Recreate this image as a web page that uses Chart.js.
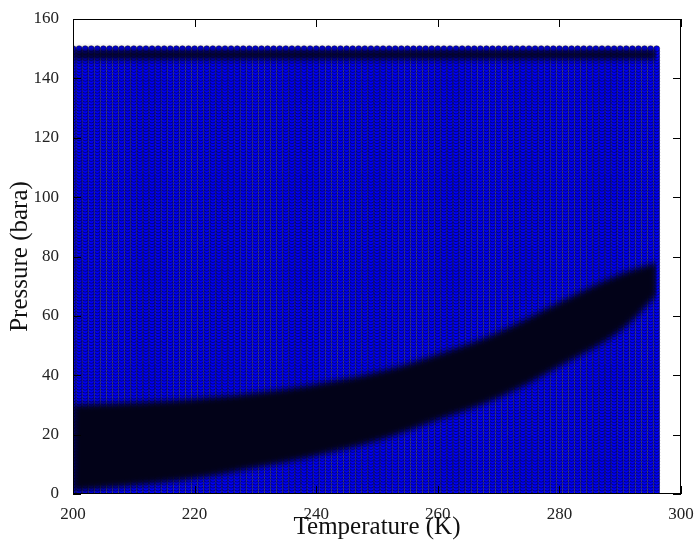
<!DOCTYPE html>
<html>
<head>
<meta charset="utf-8">
<script src="https://cdn.jsdelivr.net/npm/chart.js@4.4.1/dist/chart.umd.min.js"></script>
<style>
    html, body { margin: 0; padding: 0; background: #fff; }
    #wrap { width: 696px; height: 547px; }
</style>
</head>
<body>
<div id="wrap"><canvas id="chart"></canvas></div>
<script>
// Sampled state grid (temperature K x pressure bara)
const temperatures = [
    200, 201, 202, 203, 204, 205, 206, 207, 208, 209, 210, 211, 212, 213, 214, 215, 216, 217, 218, 219,
    220, 221, 222, 223, 224, 225, 226, 227, 228, 229, 230, 231, 232, 233, 234, 235, 236, 237, 238, 239,
    240, 241, 242, 243, 244, 245, 246, 247, 248, 249, 250, 251, 252, 253, 254, 255, 256, 257, 258, 259,
    260, 261, 262, 263, 264, 265, 266, 267, 268, 269, 270, 271, 272, 273, 274, 275, 276, 277, 278, 279,
    280, 281, 282, 283, 284, 285, 286, 287, 288, 289, 290, 291, 292, 293, 294, 295, 296
];
const pressures = [
    0, 1, 2, 3, 4, 5, 6, 7, 8, 9, 10, 11, 12, 13, 14, 15, 16, 17, 18, 19,
    20, 21, 22, 23, 24, 25, 26, 27, 28, 29, 30, 31, 32, 33, 34, 35, 36, 37, 38, 39,
    40, 41, 42, 43, 44, 45, 46, 47, 48, 49, 50, 51, 52, 53, 54, 55, 56, 57, 58, 59,
    60, 61, 62, 63, 64, 65, 66, 67, 68, 69, 70, 71, 72, 73, 74, 75, 76, 77, 78, 79,
    80, 81, 82, 83, 84, 85, 86, 87, 88, 89, 90, 91, 92, 93, 94, 95, 96, 97, 98, 99,
    100, 101, 102, 103, 104, 105, 106, 107, 108, 109, 110, 111, 112, 113, 114, 115, 116, 117, 118, 119,
    120, 121, 122, 123, 124, 125, 126, 127, 128, 129, 130, 131, 132, 133, 134, 135, 136, 137, 138, 139,
    140, 141, 142, 143, 144, 145, 146, 147, 148, 149, 150
];

// Dense two-phase band
const bandTemps = [200, 210, 220, 230, 240, 250, 260, 270, 280, 290, 296];
const bandUpper = [30, 30.8, 32, 34, 37, 41, 47, 54.5, 64.5, 74, 78];
const bandLower = [1, 3, 5.3, 8.9, 13, 18, 25, 32.5, 43, 55, 67];

// Dense strip along the top rows
const capTemps = [200, 296];
const capUpper = [149.5, 149.5];
const capLower = [146.5, 146.5];

const xTicks = [200, 220, 240, 260, 280, 300];
const yTicks = [0, 20, 40, 60, 80, 100, 120, 140, 160];

const gridPoints = [];
temperatures.forEach(t => {
    pressures.forEach(p => gridPoints.push({ x: t, y: p }));
});

const toXY = (xs, ys) => xs.map((x, i) => ({ x: x, y: ys[i] }));

// Soft edges on the dense regions, then frame and inward ticks
const softBands = {
    id: 'softBands',
    afterDatasetDraw(chart, args) {
        if (args.index === chart.data.datasets.length - 1) {
            chart.ctx.filter = 'blur(3px)';
        }
    },
    afterDatasetsDraw(chart) {
        const { ctx, chartArea: a, scales } = chart;
        ctx.filter = 'none';
        ctx.save();
        ctx.strokeStyle = '#000';
        ctx.lineWidth = 1;
        ctx.strokeRect(a.left + 0.5, a.top + 0.5, a.right - a.left - 1, a.bottom - a.top - 1);
        ctx.beginPath();
        xTicks.forEach(v => {
            const x = Math.round(scales.x.getPixelForValue(v)) + 0.5;
            ctx.moveTo(x, a.bottom); ctx.lineTo(x, a.bottom - 8);
            ctx.moveTo(x, a.top); ctx.lineTo(x, a.top + 8);
        });
        yTicks.forEach(v => {
            const y = Math.round(scales.y.getPixelForValue(v)) + 0.5;
            ctx.moveTo(a.left, y); ctx.lineTo(a.left + 8, y);
            ctx.moveTo(a.right, y); ctx.lineTo(a.right - 8, y);
        });
        ctx.stroke();
        ctx.restore();
    }
};

const tickFont = { family: 'Liberation Serif', size: 17 };
const titleFont = { family: 'Liberation Serif', size: 25 };
const bandColor = '#020218';

const edge = (data, fill) => ({
    type: 'line',
    data: data,
    borderWidth: 0,
    borderColor: bandColor,
    backgroundColor: bandColor,
    pointRadius: 0,
    tension: 0.4,
    fill: fill,
    clip: 0
});

new Chart(document.getElementById('chart'), {
    type: 'scatter',
    data: {
        datasets: [
            edge(toXY(capTemps, capUpper), false),
            edge(toXY(capTemps, capLower), '-1'),
            edge(toXY(bandTemps, bandUpper), false),
            edge(toXY(bandTemps, bandLower), '-1'),
            {
                data: gridPoints,
                pointRadius: 3,
                pointBackgroundColor: '#0000f4',
                pointBorderColor: 'rgba(0, 0, 0, 0.55)',
                pointBorderWidth: 0.8,
                clip: 0
            }
        ]
    },
    options: {
        responsive: true,
        maintainAspectRatio: false,
        animation: false,
        events: [],
        layout: { padding: { top: 19, right: 15, left: 0, bottom: 0 } },
        plugins: {
            legend: { display: false },
            tooltip: { enabled: false }
        },
        scales: {
            x: {
                type: 'linear',
                min: 200,
                max: 300,
                grid: { display: false },
                border: { display: false },
                ticks: { stepSize: 20, font: tickFont, color: '#222', padding: 2, maxRotation: 0 },
                title: { display: true, text: 'Temperature (K)', font: titleFont, color: '#111', padding: { top: 0, bottom: 5 } },
                afterFit: scale => { scale.height = 53; }
            },
            y: {
                type: 'linear',
                min: 0,
                max: 160,
                grid: { display: false },
                border: { display: false },
                ticks: { stepSize: 20, font: tickFont, color: '#222', padding: 6 },
                title: { display: true, text: 'Pressure (bara)', font: titleFont, color: '#111', padding: { top: 5, bottom: 0 } },
                afterFit: scale => { scale.width = 73; }
            }
        }
    },
    plugins: [softBands]
});
</script>
</body>
</html>
